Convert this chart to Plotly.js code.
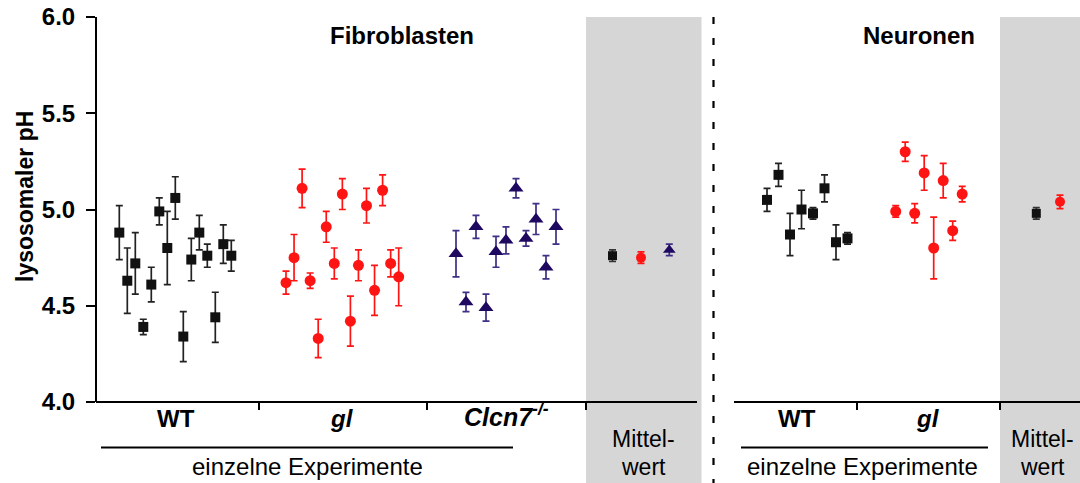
<!DOCTYPE html>
<html>
<head>
<meta charset="utf-8">
<script src="https://cdn.plot.ly/plotly-3.0.1.min.js"></script>
<style>html,body{margin:0;padding:0;background:#fff;}#chart{width:1080px;height:483px;}</style>
</head>
<body>
<div id="chart"></div>
<script>
// ---- Data (lysosomal pH, mean ± error) ----
const fibWT      = [4.88, 4.63, 4.72, 4.39, 4.61, 4.99, 4.80, 5.06, 4.34, 4.74, 4.88, 4.76, 4.44, 4.82, 4.76];
const fibWTErr   = [0.14, 0.17, 0.16, 0.04, 0.09, 0.07, 0.19, 0.11, 0.13, 0.11, 0.09, 0.06, 0.13, 0.10, 0.08];
const fibGl      = [4.62, 4.75, 5.11, 4.63, 4.33, 4.91, 4.72, 5.08, 4.42, 4.71, 5.02, 4.58, 5.10, 4.72, 4.65];
const fibGlErr   = [0.06, 0.12, 0.10, 0.04, 0.10, 0.08, 0.08, 0.08, 0.13, 0.08, 0.09, 0.13, 0.08, 0.07, 0.15];
const fibClcn    = [4.77, 4.52, 4.91, 4.49, 4.78, 4.84, 5.11, 4.85, 4.95, 4.70, 4.91];
const fibClcnErr = [0.12, 0.05, 0.06, 0.07, 0.08, 0.07, 0.05, 0.04, 0.08, 0.06, 0.09];
const fibMeans   = [4.76, 4.75, 4.79];   // WT, gl, Clcn7-/-
const fibMeanErr = [0.03, 0.03, 0.03];
const neuWT      = [5.05, 5.18, 4.87, 5.00, 4.98, 5.11, 4.83, 4.85];
const neuWTErr   = [0.06, 0.06, 0.11, 0.10, 0.03, 0.07, 0.09, 0.03];
const neuGl      = [4.99, 5.30, 4.98, 5.19, 4.80, 5.15, 4.89, 5.08];
const neuGlErr   = [0.03, 0.05, 0.05, 0.09, 0.16, 0.09, 0.05, 0.04];
const neuMeans   = [4.98, 5.04];         // WT, gl
const neuMeanErr = [0.03, 0.035];
const yTicks     = [4.0, 4.5, 5.0, 5.5, 6.0];

// ---- Layout helpers (pixel geometry of the figure) ----
const W = 1080, H = 483, L = 97, T = 17, B = 81;
const PW = W - L, PH = H - T - B;
const X = px => (px - L) / PW;          // pixel -> paper x
const Y = py => (H - B - py) / PH;      // pixel -> paper y
const seq = (n, start, step) => Array.from({length: n}, (_, i) => start + i * step);

const BLACK = '#111111', RED = '#ff1414', PURPLE = '#1e0860', PURPLE_ERR = '#3f2f85';
const FONT = 'Liberation Sans, Arial, sans-serif';

function tr(xs, ys, errs, symbol, color, ecolor, size, name) {
  return {
    type: 'scatter', mode: 'markers', x: xs, y: ys, name: name,
    marker: {symbol: symbol, color: color, size: size, line: {width: 0}},
    error_y: {type: 'data', array: errs, visible: true, color: ecolor, thickness: 1.7, width: 3.5},
    cliponaxis: false, hoverinfo: 'y'
  };
}

const traces = [
  tr(seq(fibWT.length, 119.3, 8.0), fibWT, fibWTErr, 'square', BLACK, '#222', 10, 'WT'),
  tr(seq(fibGl.length, 286, 8.05), fibGl, fibGlErr, 'circle', RED, RED, 11, 'gl'),
  tr(seq(fibClcn.length, 456, 10), fibClcn, fibClcnErr, 'triangle-up', PURPLE, PURPLE_ERR, 13, 'Clcn7'),
  tr([612.5], [fibMeans[0]], [fibMeanErr[0]], 'square', BLACK, '#333', 9, 'WT mean'),
  tr([641], [fibMeans[1]], [fibMeanErr[1]], 'circle', RED, RED, 10, 'gl mean'),
  tr([669.3], [fibMeans[2]], [fibMeanErr[2]], 'triangle-up', PURPLE, PURPLE_ERR, 11, 'Clcn7 mean'),
  tr(seq(neuWT.length, 767, 11.5), neuWT, neuWTErr, 'square', BLACK, '#222', 10, 'WT N'),
  tr(seq(neuGl.length, 895.7, 9.5), neuGl, neuGlErr, 'circle', RED, RED, 11, 'gl N'),
  tr([1036.3], [neuMeans[0]], [neuMeanErr[0]], 'square', BLACK, '#333', 9, 'WT N mean'),
  tr([1060], [neuMeans[1]], [neuMeanErr[1]], 'circle', RED, RED, 10, 'gl N mean')
];

const shapes = [
  // grey "Mittelwert" bands
  {type: 'rect', xref: 'paper', yref: 'paper', x0: X(586), x1: X(701.5), y0: Y(H), y1: Y(17), fillcolor: '#d6d6d6', line: {width: 0}, layer: 'below'},
  {type: 'rect', xref: 'paper', yref: 'paper', x0: X(1000), x1: X(1080), y0: Y(H), y1: Y(17), fillcolor: '#d6d6d6', line: {width: 0}, layer: 'below'},
  // dashed separator
  {type: 'line', xref: 'paper', yref: 'paper', x0: X(713.5), x1: X(713.5), y0: Y(17), y1: Y(H), line: {color: '#000', width: 2.2, dash: '7px,14px'}},
  // x axis segments
  {type: 'line', xref: 'paper', yref: 'paper', x0: X(96), x1: X(697), y0: Y(402), y1: Y(402), line: {color: '#000', width: 2}},
  {type: 'line', xref: 'paper', yref: 'paper', x0: X(734), x1: X(1080), y0: Y(402), y1: Y(402), line: {color: '#000', width: 2}},
  // underlines for "einzelne Experimente"
  {type: 'line', xref: 'paper', yref: 'paper', x0: X(101), x1: X(513), y0: Y(447.5), y1: Y(447.5), line: {color: '#000', width: 2}},
  {type: 'line', xref: 'paper', yref: 'paper', x0: X(741), x1: X(988), y0: Y(447.5), y1: Y(447.5), line: {color: '#000', width: 2}}
];
// group separator ticks on x axis
[259, 427, 586, 857, 1000].forEach(px => shapes.push(
  {type: 'line', xref: 'paper', yref: 'paper', x0: X(px), x1: X(px), y0: Y(402), y1: Y(410), line: {color: '#000', width: 2}}
));

function ann(text, px, py, size, extra) {
  return Object.assign({xref: 'paper', yref: 'paper', x: X(px), y: Y(py), xanchor: 'center', yanchor: 'middle',
    text: text, showarrow: false, font: {family: FONT, size: size, color: '#000'}}, extra || {});
}
const annotations = [
  ann('<b>Fibroblasten</b>', 401.5, 35, 24),
  ann('<b>Neuronen</b>', 919, 35, 24),
  ann('<b>lysosomaler pH</b>', 25, 197, 23, {textangle: -90}),
  ann('<b>WT</b>', 176, 418, 24),
  ann('<b><i>gl</i></b>', 342, 418, 24),
  ann('<b><i>Clcn7</i></b><sup><b><i>-/-</i></b></sup>', 506, 415, 25),
  ann('<b>WT</b>', 797, 418, 24),
  ann('<b><i>gl</i></b>', 928, 418, 24),
  ann('einzelne Experimente', 307, 466, 24),
  ann('einzelne Experimente', 862, 466, 24),
  ann('Mittel-', 643, 439, 23),
  ann('wert', 643, 467, 23),
  ann('Mittel-', 1042, 439, 23),
  ann('wert', 1042, 467, 23)
];

const layout = {
  width: W, height: H,
  margin: {l: L, r: 0, t: T, b: B, pad: 0},
  paper_bgcolor: '#fff', plot_bgcolor: 'rgba(0,0,0,0)',
  showlegend: false,
  font: {family: FONT, color: '#000'},
  xaxis: {range: [L, W], visible: false, fixedrange: true},
  yaxis: {
    range: [4, 6], tickvals: yTicks, ticktext: yTicks.map(v => v.toFixed(1)),
    showline: true, linecolor: '#000', linewidth: 2, showgrid: false, zeroline: false,
    ticks: 'outside', ticklen: 9, tickwidth: 2, tickcolor: '#000', ticklabelstandoff: 6,
    tickfont: {family: FONT, size: 24, weight: 'bold', color: '#000'},
    fixedrange: true
  },
  shapes: shapes,
  annotations: annotations
};

Plotly.newPlot('chart', traces, layout, {displayModeBar: false, staticPlot: true});
</script>
</body>
</html>
